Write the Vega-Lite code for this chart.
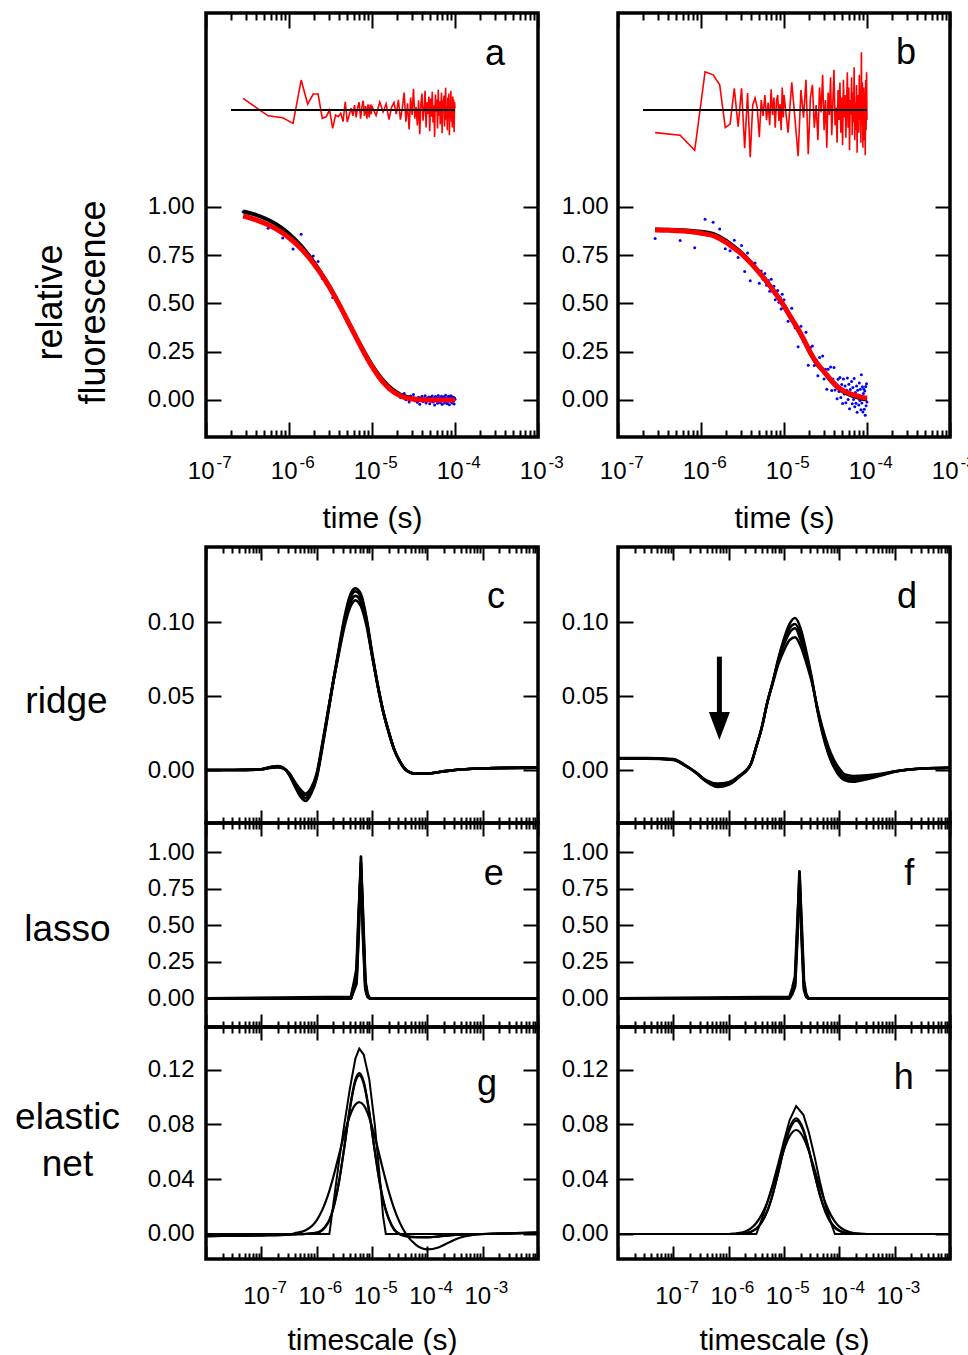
{
"$schema":"https://vega.github.io/schema/vega-lite/v6.json",
"padding":{"left":12,"top":11,"right":0,"bottom":0},
"autosize":{"type":"pad"},
"background":"white",
"config":{
 "font":"Liberation Sans",
 "view":{"stroke":"black","strokeWidth":3.5},
 "axis":{"grid":false,"domain":false,"tickColor":"black","tickWidth":2,"labelColor":"black","titleColor":"black","labelFont":"Liberation Sans","titleFont":"Liberation Sans","labelFontSize":24,"titleFontSize":30,"titleFontWeight":"normal","labelFlush":false,"labelOverlap":false,"labelBound":false}
},
"datasets":{
"aPts":[
{"t":0.28e-6,"d":0.974,"r":1.560},{"t":0.56e-6,"d":0.888,"r":1.470},{"t":0.84e-6,"d":0.838,"r":1.460},{"t":1.12e-6,"d":0.781,"r":1.431},{"t":1.40e-6,"d":0.857,"r":1.655},{"t":1.68e-6,"d":0.759,"r":1.531},{"t":1.96e-6,"d":0.745,"r":1.583},{"t":2.24e-6,"d":0.716,"r":1.583},{"t":2.52e-6,"d":0.628,"r":1.457},{"t":2.80e-6,"d":0.600,"r":1.465},{"t":3.08e-6,"d":0.583,"r":1.500},{"t":3.36e-6,"d":0.530,"r":1.405},{"t":3.64e-6,"d":0.522,"r":1.474},{"t":3.92e-6,"d":0.497,"r":1.466},{"t":4.20e-6,"d":0.476,"r":1.483},{"t":4.48e-6,"d":0.447,"r":1.440},{"t":4.76e-6,"d":0.444,"r":1.543},{"t":5.04e-6,"d":0.404,"r":1.438},{"t":5.32e-6,"d":0.390,"r":1.474},{"t":5.60e-6,"d":0.377,"r":1.510},{"t":5.88e-6,"d":0.349,"r":1.470},{"t":6.16e-6,"d":0.345,"r":1.525},{"t":6.44e-6,"d":0.318,"r":1.462},{"t":6.72e-6,"d":0.311,"r":1.512},{"t":7.00e-6,"d":0.301,"r":1.540},{"t":7.28e-6,"d":0.271,"r":1.455},{"t":7.56e-6,"d":0.268,"r":1.515},{"t":7.84e-6,"d":0.262,"r":1.548},{"t":8.12e-6,"d":0.236,"r":1.470},{"t":8.40e-6,"d":0.233,"r":1.520},{"t":8.68e-6,"d":0.211,"r":1.455},{"t":8.96e-6,"d":0.215,"r":1.530},{"t":9.24e-6,"d":0.192,"r":1.462},{"t":9.52e-6,"d":0.194,"r":1.528},{"t":9.80e-6,"d":0.176,"r":1.478},
{"t":10.0e-6,"d":0.178,"r":1.518},{"t":11.2e-6,"d":0.137,"r":1.472},{"t":12.4e-6,"d":0.123,"r":1.542},{"t":13.6e-6,"d":0.092,"r":1.490},{"t":14.8e-6,"d":0.082,"r":1.532},{"t":16.0e-6,"d":0.054,"r":1.451},{"t":17.2e-6,"d":0.053,"r":1.514},{"t":18.4e-6,"d":0.049,"r":1.539},{"t":19.6e-6,"d":0.030,"r":1.479},{"t":20.8e-6,"d":0.037,"r":1.553},{"t":22.0e-6,"d":0.013,"r":1.450},{"t":23.2e-6,"d":0.021,"r":1.510},{"t":24.4e-6,"d":0.034,"r":1.590},{"t":25.6e-6,"d":0.001,"r":1.440},{"t":26.8e-6,"d":0.018,"r":1.535},{"t":28.0e-6,"d":-0.011,"r":1.400},{"t":29.2e-6,"d":0.021,"r":1.565},{"t":30.4e-6,"d":0.002,"r":1.475},{"t":31.6e-6,"d":0.028,"r":1.610},{"t":32.8e-6,"d":-0.004,"r":1.455},{"t":34.0e-6,"d":0.008,"r":1.515},{"t":35.2e-6,"d":-0.012,"r":1.420},{"t":36.4e-6,"d":0.014,"r":1.550},{"t":37.6e-6,"d":-0.022,"r":1.375},{"t":38.8e-6,"d":0.009,"r":1.530},{"t":40.0e-6,"d":0.020,"r":1.585},{"t":41.2e-6,"d":-0.008,"r":1.445},{"t":42.4e-6,"d":0.004,"r":1.505},{"t":43.6e-6,"d":0.022,"r":1.600},{"t":44.8e-6,"d":-0.016,"r":1.410},{"t":46.0e-6,"d":0.010,"r":1.540},{"t":47.2e-6,"d":-0.002,"r":1.480},{"t":48.4e-6,"d":0.016,"r":1.570},{"t":49.6e-6,"d":-0.020,"r":1.390},{"t":50.8e-6,"d":0.014,"r":1.560},{"t":52.0e-6,"d":-0.005,"r":1.465},{"t":53.2e-6,"d":0.021,"r":1.595},{"t":54.4e-6,"d":-0.011,"r":1.435},{"t":55.6e-6,"d":0.007,"r":1.525},{"t":56.8e-6,"d":-0.026,"r":1.360},{"t":58.0e-6,"d":0.018,"r":1.580},{"t":59.2e-6,"d":0.000,"r":1.490},{"t":60.4e-6,"d":0.013,"r":1.555},{"t":61.6e-6,"d":-0.017,"r":1.405},{"t":62.8e-6,"d":0.023,"r":1.605},{"t":64.0e-6,"d":-0.004,"r":1.470},{"t":65.2e-6,"d":0.011,"r":1.545},{"t":66.4e-6,"d":-0.013,"r":1.425},{"t":67.6e-6,"d":0.005,"r":1.515},{"t":68.8e-6,"d":0.020,"r":1.590},{"t":70.0e-6,"d":-0.022,"r":1.380},{"t":71.2e-6,"d":0.012,"r":1.550},{"t":72.4e-6,"d":0.001,"r":1.495},{"t":73.6e-6,"d":0.017,"r":1.575},{"t":74.8e-6,"d":-0.015,"r":1.415},{"t":76.0e-6,"d":0.009,"r":1.535},{"t":77.2e-6,"d":0.025,"r":1.615},{"t":78.4e-6,"d":-0.008,"r":1.450},{"t":79.6e-6,"d":0.006,"r":1.520},{"t":80.8e-6,"d":-0.019,"r":1.395},{"t":82.0e-6,"d":0.015,"r":1.565},{"t":83.2e-6,"d":-0.006,"r":1.460},{"t":84.4e-6,"d":0.019,"r":1.585},{"t":85.6e-6,"d":-0.024,"r":1.370},{"t":86.8e-6,"d":0.011,"r":1.545},{"t":88.0e-6,"d":-0.001,"r":1.485},{"t":89.2e-6,"d":0.022,"r":1.600},{"t":90.4e-6,"d":-0.010,"r":1.440},{"t":91.6e-6,"d":0.008,"r":1.530},{"t":92.8e-6,"d":-0.016,"r":1.410},{"t":94.0e-6,"d":0.016,"r":1.570},{"t":95.2e-6,"d":-0.003,"r":1.475},{"t":96.4e-6,"d":0.013,"r":1.555},{"t":97.6e-6,"d":-0.021,"r":1.385},{"t":98.8e-6,"d":0.010,"r":1.540},{"t":100.0e-6,"d":0.004,"r":1.510}
],
"aFit":[
{"t":0.28e-6,"r":0.952,"k":0.975},{"t":0.4e-6,"r":0.932,"k":0.958},{"t":0.56e-6,"r":0.906,"k":0.932},{"t":0.8e-6,"r":0.869,"k":0.893},{"t":1.0e-6,"r":0.839,"k":0.860},{"t":1.4e-6,"r":0.782,"k":0.797},{"t":2.0e-6,"r":0.704,"k":0.712},{"t":2.8e-6,"r":0.612,"k":0.615},{"t":4.0e-6,"r":0.496,"k":0.496},{"t":5.6e-6,"r":0.374,"k":0.375},{"t":8.0e-6,"r":0.246,"k":0.251},{"t":10e-6,"r":0.173,"k":0.181},{"t":12e-6,"r":0.122,"k":0.131},{"t":14e-6,"r":0.086,"k":0.095},{"t":17e-6,"r":0.051,"k":0.060},{"t":20e-6,"r":0.030,"k":0.038},{"t":24e-6,"r":0.015,"k":0.021},{"t":28e-6,"r":0.007,"k":0.012},{"t":34e-6,"r":0.003,"k":0.006},{"t":40e-6,"r":0.001,"k":0.003},{"t":56e-6,"r":0.0,"k":0.001},{"t":80e-6,"r":0.0,"k":0.0},{"t":100e-6,"r":0.0,"k":0.0}
],
"aZ":[{"t":2e-7,"y":1.5},{"t":1e-4,"y":1.5}],
"bPts":[
{"t":0.28e-6,"d":0.835,"r":1.383},{"t":0.56e-6,"d":0.825,"r":1.370},{"t":0.84e-6,"d":0.788,"r":1.292},{"t":1.12e-6,"d":0.935,"r":1.698},{"t":1.40e-6,"d":0.919,"r":1.682},{"t":1.68e-6,"d":0.884,"r":1.630},{"t":1.96e-6,"d":0.782,"r":1.409},{"t":2.24e-6,"d":0.772,"r":1.427},{"t":2.52e-6,"d":0.827,"r":1.612},{"t":2.80e-6,"d":0.737,"r":1.414},{"t":3.08e-6,"d":0.799,"r":1.612},{"t":3.36e-6,"d":0.665,"r":1.302},{"t":3.64e-6,"d":0.760,"r":1.588},{"t":3.92e-6,"d":0.617,"r":1.256},{"t":4.20e-6,"d":0.708,"r":1.526},{"t":4.48e-6,"d":0.709,"r":1.562},{"t":4.76e-6,"d":0.676,"r":1.513},{"t":5.04e-6,"d":0.604,"r":1.360},{"t":5.32e-6,"d":0.667,"r":1.552},{"t":5.60e-6,"d":0.624,"r":1.469},{"t":5.88e-6,"d":0.655,"r":1.578},{"t":6.16e-6,"d":0.594,"r":1.448},{"t":6.44e-6,"d":0.618,"r":1.539},{"t":6.72e-6,"d":0.563,"r":1.422},{"t":7.00e-6,"d":0.624,"r":1.607},{"t":7.28e-6,"d":0.563,"r":1.474},{"t":7.56e-6,"d":0.588,"r":1.565},{"t":7.84e-6,"d":0.518,"r":1.409},{"t":8.12e-6,"d":0.562,"r":1.547},{"t":8.40e-6,"d":0.566,"r":1.578},{"t":8.68e-6,"d":0.505,"r":1.443},{"t":8.96e-6,"d":0.531,"r":1.531},{"t":9.24e-6,"d":0.471,"r":1.396},{"t":9.52e-6,"d":0.547,"r":1.617},{"t":9.80e-6,"d":0.479,"r":1.461},
{"t":10.0e-6,"d":0.518,"r":1.578},{"t":11.2e-6,"d":0.408,"r":1.383},{"t":12.4e-6,"d":0.475,"r":1.643},{"t":13.6e-6,"d":0.374,"r":1.448},{"t":14.8e-6,"d":0.275,"r":1.261},{"t":16.0e-6,"d":0.381,"r":1.604},{"t":17.2e-6,"d":0.301,"r":1.461},{"t":18.4e-6,"d":0.350,"r":1.656},{"t":19.6e-6,"d":0.180,"r":1.271},{"t":20.8e-6,"d":0.271,"r":1.565},{"t":22.0e-6,"d":0.279,"r":1.630},{"t":23.2e-6,"d":0.178,"r":1.409},{"t":24.4e-6,"d":0.207,"r":1.526},{"t":25.6e-6,"d":0.125,"r":1.344},{"t":26.8e-6,"d":0.220,"r":1.617},{"t":28.0e-6,"d":0.161,"r":1.487},{"t":29.2e-6,"d":0.227,"r":1.682},{"t":30.4e-6,"d":0.108,"r":1.396},{"t":31.6e-6,"d":0.159,"r":1.552},{"t":32.8e-6,"d":0.056,"r":1.305},{"t":34.0e-6,"d":0.159,"r":1.591},{"t":35.2e-6,"d":0.105,"r":1.474},{"t":36.4e-6,"d":0.171,"r":1.669},{"t":37.6e-6,"d":0.049,"r":1.370},{"t":38.8e-6,"d":0.109,"r":1.539},{"t":40.0e-6,"d":0.168,"r":1.708},{"t":41.2e-6,"d":0.052,"r":1.422},{"t":42.4e-6,"d":0.081,"r":1.513},{"t":43.6e-6,"d":0.006,"r":1.331},{"t":44.8e-6,"d":0.107,"r":1.604},{"t":46.0e-6,"d":0.044,"r":1.448},{"t":47.2e-6,"d":0.116,"r":1.643},{"t":48.4e-6,"d":0.013,"r":1.383},{"t":49.6e-6,"d":0.080,"r":1.565},{"t":50.8e-6,"d":-0.018,"r":1.318},{"t":52.0e-6,"d":0.109,"r":1.656},{"t":53.2e-6,"d":0.031,"r":1.461},{"t":54.4e-6,"d":0.073,"r":1.578},{"t":55.6e-6,"d":-0.014,"r":1.357},{"t":56.8e-6,"d":0.050,"r":1.526},{"t":58.0e-6,"d":0.114,"r":1.695},{"t":59.2e-6,"d":0.002,"r":1.409},{"t":60.4e-6,"d":0.081,"r":1.617},{"t":61.6e-6,"d":-0.045,"r":1.292},{"t":62.8e-6,"d":0.054,"r":1.552},{"t":64.0e-6,"d":0.023,"r":1.474},{"t":65.2e-6,"d":0.096,"r":1.669},{"t":66.4e-6,"d":-0.020,"r":1.370},{"t":67.6e-6,"d":0.064,"r":1.591},{"t":68.8e-6,"d":0.002,"r":1.435},{"t":70.0e-6,"d":0.111,"r":1.721},{"t":71.2e-6,"d":-0.035,"r":1.344},{"t":72.4e-6,"d":0.039,"r":1.539},{"t":73.6e-6,"d":-0.017,"r":1.396},{"t":74.8e-6,"d":0.073,"r":1.630},{"t":76.0e-6,"d":-0.063,"r":1.279},{"t":77.2e-6,"d":0.051,"r":1.578},{"t":78.4e-6,"d":0.025,"r":1.513},{"t":79.6e-6,"d":-0.026,"r":1.383},{"t":80.8e-6,"d":0.088,"r":1.682},{"t":82.0e-6,"d":-0.003,"r":1.448},{"t":83.2e-6,"d":0.056,"r":1.604},{"t":84.4e-6,"d":-0.050,"r":1.331},{"t":85.6e-6,"d":0.130,"r":1.799},{"t":86.8e-6,"d":-0.016,"r":1.422},{"t":88.0e-6,"d":0.069,"r":1.643},{"t":89.2e-6,"d":-0.062,"r":1.305},{"t":90.4e-6,"d":0.033,"r":1.552},{"t":91.6e-6,"d":0.057,"r":1.617},{"t":92.8e-6,"d":-0.048,"r":1.344},{"t":94.0e-6,"d":0.046,"r":1.591},{"t":95.2e-6,"d":-0.079,"r":1.266},{"t":96.4e-6,"d":0.070,"r":1.656},{"t":97.6e-6,"d":-0.030,"r":1.396},{"t":98.8e-6,"d":0.084,"r":1.695},{"t":100.0e-6,"d":-0.011,"r":1.448}
],
"bFit":[
{"t":0.28e-6,"r":0.880,"k":0.882},{"t":0.4e-6,"r":0.878,"k":0.881},{"t":0.6e-6,"r":0.874,"k":0.878},{"t":0.8e-6,"r":0.869,"k":0.874},{"t":1.0e-6,"r":0.863,"k":0.870},{"t":1.5e-6,"r":0.845,"k":0.854},{"t":2.0e-6,"r":0.815,"k":0.824},{"t":2.5e-6,"r":0.785,"k":0.793},{"t":3.0e-6,"r":0.760,"k":0.766},{"t":4.0e-6,"r":0.707,"k":0.711},{"t":5.0e-6,"r":0.660,"k":0.662},{"t":6.4e-6,"r":0.604,"k":0.604},{"t":8.0e-6,"r":0.548,"k":0.546},{"t":9.6e-6,"r":0.500,"k":0.497},{"t":12e-6,"r":0.430,"k":0.426},{"t":14.6e-6,"r":0.371,"k":0.366},{"t":17e-6,"r":0.320,"k":0.315},{"t":21e-6,"r":0.242,"k":0.238},{"t":25e-6,"r":0.190,"k":0.186},{"t":30.6e-6,"r":0.146,"k":0.142},{"t":37e-6,"r":0.102,"k":0.098},{"t":44e-6,"r":0.069,"k":0.064},{"t":55e-6,"r":0.042,"k":0.036},{"t":70e-6,"r":0.026,"k":0.019},{"t":85e-6,"r":0.015,"k":0.008},{"t":100e-6,"r":0.009,"k":0.002}
],
"bZ":[{"t":2e-7,"y":1.5},{"t":1e-4,"y":1.5}],
"cL":[
{"t":1e-8,"c1":0,"c2":0,"c3":0,"c4":0},{"t":3.162e-8,"c1":0,"c2":0,"c3":0,"c4":0},{"t":1e-7,"c1":0.0005,"c2":0.0005,"c3":0.0005,"c4":0.0005},{"t":1.585e-7,"c1":0.0024,"c2":0.0021,"c3":0.0019,"c4":0.0016},{"t":1.995e-7,"c1":0.0026,"c2":0.0023,"c3":0.0021,"c4":0.0018},{"t":2.512e-7,"c1":0.0014,"c2":0.0013,"c3":0.0011,"c4":0.001},{"t":3.162e-7,"c1":-0.003,"c2":-0.0027,"c3":-0.0023,"c4":-0.002},{"t":3.981e-7,"c1":-0.0105,"c2":-0.0095,"c3":-0.0085,"c4":-0.0078},{"t":5.012e-7,"c1":-0.0175,"c2":-0.0158,"c3":-0.0142,"c4":-0.013},{"t":6.31e-7,"c1":-0.021,"c2":-0.019,"c3":-0.017,"c4":-0.016},{"t":7.943e-7,"c1":-0.016,"c2":-0.0148,"c3":-0.0132,"c4":-0.0122},{"t":1e-6,"c1":-0.0055,"c2":-0.0045,"c3":-0.0035,"c4":-0.0025},{"t":1.259e-6,"c1":0.0145,"c2":0.0155,"c3":0.0165,"c4":0.0175},{"t":1.585e-6,"c1":0.037,"c2":0.038,"c3":0.038,"c4":0.039},{"t":1.995e-6,"c1":0.06,"c2":0.06,"c3":0.06,"c4":0.06},{"t":2.512e-6,"c1":0.082,"c2":0.081,"c3":0.08,"c4":0.079},{"t":3.162e-6,"c1":0.103,"c2":0.101,"c3":0.099,"c4":0.097},{"t":3.981e-6,"c1":0.118,"c2":0.116,"c3":0.113,"c4":0.11},{"t":5.012e-6,"c1":0.123,"c2":0.121,"c3":0.118,"c4":0.115},{"t":6.31e-6,"c1":0.119,"c2":0.117,"c3":0.114,"c4":0.111},{"t":7.943e-6,"c1":0.103,"c2":0.102,"c3":0.1,"c4":0.098},{"t":1e-5,"c1":0.08,"c2":0.079,"c3":0.078,"c4":0.078},{"t":1.259e-5,"c1":0.058,"c2":0.058,"c3":0.058,"c4":0.058},{"t":1.585e-5,"c1":0.04,"c2":0.04,"c3":0.04,"c4":0.04},{"t":1.995e-5,"c1":0.026,"c2":0.026,"c3":0.026,"c4":0.026},{"t":2.512e-5,"c1":0.014,"c2":0.014,"c3":0.014,"c4":0.014},{"t":3.162e-5,"c1":0.006,"c2":0.006,"c3":0.006,"c4":0.006},{"t":3.981e-5,"c1":0.0005,"c2":0.0005,"c3":0.0005,"c4":0.0005},{"t":5.012e-5,"c1":-0.0018,"c2":-0.0018,"c3":-0.0018,"c4":-0.0018},{"t":6.31e-5,"c1":-0.0025,"c2":-0.0025,"c3":-0.0025,"c4":-0.0025},{"t":1e-4,"c1":-0.0024,"c2":-0.0024,"c3":-0.0024,"c4":-0.0024},{"t":1.778e-4,"c1":-0.0012,"c2":-0.0012,"c3":-0.0012,"c4":-0.0012},{"t":3.162e-4,"c1":0,"c2":0,"c3":0,"c4":0},{"t":1e-3,"c1":0.0011,"c2":0.0011,"c3":0.0011,"c4":0.0011},{"t":3.162e-3,"c1":0.0015,"c2":0.0015,"c3":0.0015,"c4":0.0015},{"t":1e-2,"c1":0.0016,"c2":0.0016,"c3":0.0016,"c4":0.0016}
],
"dL":[
{"t":1e-8,"d1":0.008,"d2":0.0082,"d3":0.0078,"d4":0.0076},{"t":3.162e-8,"d1":0.008,"d2":0.0082,"d3":0.0078,"d4":0.0076},{"t":1e-7,"d1":0.0072,"d2":0.0074,"d3":0.007,"d4":0.0068},{"t":1.585e-7,"d1":0.0035,"d2":0.0037,"d3":0.0034,"d4":0.0032},{"t":2.512e-7,"d1":-0.0015,"d2":-0.0017,"d3":-0.0014,"d4":-0.0013},{"t":3.981e-7,"d1":-0.008,"d2":-0.0078,"d3":-0.0075,"d4":-0.007},{"t":6.31e-7,"d1":-0.0115,"d2":-0.0108,"d3":-0.01,"d4":-0.0092},{"t":1e-6,"d1":-0.01,"d2":-0.0095,"d3":-0.009,"d4":-0.0082},{"t":1.585e-6,"d1":-0.0045,"d2":-0.0042,"d3":-0.004,"d4":-0.0036},{"t":2.512e-6,"d1":0.004,"d2":0.004,"d3":0.004,"d4":0.004},{"t":3.162e-6,"d1":0.016,"d2":0.016,"d3":0.016,"d4":0.016},{"t":3.981e-6,"d1":0.029,"d2":0.029,"d3":0.029,"d4":0.029},{"t":5.012e-6,"d1":0.046,"d2":0.046,"d3":0.046,"d4":0.046},{"t":6.31e-6,"d1":0.06,"d2":0.06,"d3":0.06,"d4":0.059},{"t":7.943e-6,"d1":0.076,"d2":0.075,"d3":0.074,"d4":0.072},{"t":1e-5,"d1":0.089,"d2":0.087,"d3":0.085,"d4":0.081},{"t":1.259e-5,"d1":0.099,"d2":0.096,"d3":0.093,"d4":0.088},{"t":1.585e-5,"d1":0.103,"d2":0.099,"d3":0.096,"d4":0.09},{"t":1.995e-5,"d1":0.096,"d2":0.092,"d3":0.088,"d4":0.084},{"t":2.512e-5,"d1":0.081,"d2":0.078,"d3":0.076,"d4":0.073},{"t":3.162e-5,"d1":0.063,"d2":0.062,"d3":0.061,"d4":0.06},{"t":3.981e-5,"d1":0.041,"d2":0.042,"d3":0.042,"d4":0.043},{"t":5.012e-5,"d1":0.024,"d2":0.025,"d3":0.026,"d4":0.028},{"t":6.31e-5,"d1":0.011,"d2":0.012,"d3":0.014,"d4":0.016},{"t":7.943e-5,"d1":0.002,"d2":0.003,"d3":0.005,"d4":0.007},{"t":1e-4,"d1":-0.004,"d2":-0.003,"d3":-0.001,"d4":0.001},{"t":1.259e-4,"d1":-0.007,"d2":-0.0058,"d3":-0.0045,"d4":-0.003},{"t":1.778e-4,"d1":-0.008,"d2":-0.0066,"d3":-0.0055,"d4":-0.004},{"t":3.162e-4,"d1":-0.0062,"d2":-0.0053,"d3":-0.0045,"d4":-0.0036},{"t":5.623e-4,"d1":-0.0038,"d2":-0.0034,"d3":-0.003,"d4":-0.0026},{"t":1e-3,"d1":-0.0012,"d2":-0.0011,"d3":-0.001,"d4":-0.0009},{"t":3.162e-3,"d1":0.001,"d2":0.001,"d3":0.001,"d4":0.001},{"t":1e-2,"d1":0.0016,"d2":0.0016,"d3":0.0016,"d4":0.0016}
],
"eL":[
{"t":1e-8,"e1":0,"e2":0,"e3":0,"e4":0},{"t":4.169e-6,"e1":0,"e2":0,"e3":0.01,"e4":0},{"t":4.677e-6,"e1":0.06,"e2":0.09,"e3":0.1,"e4":0.05},{"t":5.248e-6,"e1":0.12,"e2":0.15,"e3":0.2,"e4":0.1},{"t":5.754e-6,"e1":0.5,"e2":0.55,"e3":0.6,"e4":0.45},{"t":6.31e-6,"e1":0.97,"e2":0.93,"e3":0.88,"e4":0.9},{"t":6.918e-6,"e1":0.5,"e2":0.45,"e3":0.4,"e4":0.55},{"t":7.586e-6,"e1":0.1,"e2":0.08,"e3":0.06,"e4":0.12},{"t":8.318e-6,"e1":0.02,"e2":0.01,"e3":0.01,"e4":0.03},{"t":9.12e-6,"e1":0,"e2":0,"e3":0,"e4":0},{"t":1e-2,"e1":0,"e2":0,"e3":0,"e4":0}
],
"fL":[
{"t":1e-8,"f1":0,"f2":0,"f3":0},{"t":1.259e-5,"f1":0,"f2":0.01,"f3":0},{"t":1.413e-5,"f1":0.04,"f2":0.07,"f3":0.03},{"t":1.585e-5,"f1":0.1,"f2":0.15,"f3":0.08},{"t":1.738e-5,"f1":0.45,"f2":0.5,"f3":0.4},{"t":1.905e-5,"f1":0.87,"f2":0.8,"f3":0.83},{"t":2.089e-5,"f1":0.45,"f2":0.4,"f3":0.5},{"t":2.291e-5,"f1":0.08,"f2":0.06,"f3":0.12},{"t":2.512e-5,"f1":0.02,"f2":0.01,"f3":0.03},{"t":2.754e-5,"f1":0,"f2":0,"f3":0},{"t":1e-2,"f1":0,"f2":0,"f3":0}
],
"gL":[
{"t":1e-8,"g1":-0.0015,"g2":-0.0015,"g3":-0.0015,"g4":0},{"t":1e-7,"g1":-0.001,"g2":-0.001,"g3":-0.001,"g4":0},{"t":3.162e-7,"g1":-0.0004,"g2":-0.0005,"g3":-0.0005,"g4":0},{"t":3.981e-7,"g1":0.0005,"g2":-0.0003,"g3":-0.0003,"g4":0},{"t":6.31e-7,"g1":0.0027,"g2":0,"g3":0.0001,"g4":0},{"t":1e-6,"g1":0.01,"g2":0.0008,"g3":0.001,"g4":0},{"t":1.259e-6,"g1":0.0174,"g2":0.0027,"g3":0.003,"g4":0},{"t":1.585e-6,"g1":0.0279,"g2":0.0077,"g3":0.0081,"g4":0},{"t":1.698e-6,"g1":0.0316,"g2":0.0101,"g3":0.0105,"g4":0},{"t":1.995e-6,"g1":0.0414,"g2":0.0184,"g3":0.0188,"g4":0.0214},{"t":2.512e-6,"g1":0.0571,"g2":0.0372,"g3":0.0374,"g4":0.052},{"t":3.162e-6,"g1":0.0729,"g2":0.0637,"g3":0.0632,"g4":0.08},{"t":3.981e-6,"g1":0.0863,"g2":0.0921,"g3":0.091,"g4":0.106},{"t":5.012e-6,"g1":0.0945,"g2":0.1128,"g3":0.1112,"g4":0.128},{"t":5.888e-6,"g1":0.0963,"g2":0.1175,"g3":0.1158,"g4":0.1353},{"t":7.079e-6,"g1":0.094,"g2":0.1113,"g3":0.1098,"g4":0.131},{"t":8.913e-6,"g1":0.085,"g2":0.0895,"g3":0.0885,"g4":0.113},{"t":1.122e-5,"g1":0.0711,"g2":0.0608,"g3":0.0605,"g4":0.08},{"t":1.413e-5,"g1":0.0549,"g2":0.0349,"g3":0.0352,"g4":0.037},{"t":1.585e-5,"g1":0.0467,"g2":0.0248,"g3":0.0255,"g4":0.013},{"t":1.778e-5,"g1":0.0388,"g2":0.017,"g3":0.0178,"g4":0},{"t":1.995e-5,"g1":0.0314,"g2":0.0111,"g3":0.0118,"g4":0},{"t":2.512e-5,"g1":0.0186,"g2":0.0031,"g3":0.0036,"g4":0},{"t":3.162e-5,"g1":0.0085,"g2":-0.0002,"g3":0.0002,"g4":0},{"t":3.981e-5,"g1":0.0009,"g2":-0.0015,"g3":-0.0012,"g4":0},{"t":6.31e-5,"g1":-0.0081,"g2":-0.0024,"g3":-0.0022,"g4":0},{"t":1e-4,"g1":-0.0112,"g2":-0.0024,"g3":-0.0023,"g4":0},{"t":1.585e-4,"g1":-0.0098,"g2":-0.0019,"g3":-0.0018,"g4":0},{"t":2.512e-4,"g1":-0.006,"g2":-0.0011,"g3":-0.001,"g4":0},{"t":3.981e-4,"g1":-0.0026,"g2":-0.0005,"g3":-0.0005,"g4":0},{"t":6.31e-4,"g1":-0.0008,"g2":-0.0002,"g3":-0.0002,"g4":0},{"t":1e-3,"g1":-0.0001,"g2":0,"g3":0,"g4":0},{"t":3.162e-3,"g1":0.0005,"g2":0.0005,"g3":0.0005,"g4":0.0003},{"t":1e-2,"g1":0.001,"g2":0.001,"g3":0.001,"g4":0.0008}
],
"hL":[
{"t":1e-8,"h1":0,"h2":0,"h3":0,"h4":0},{"t":3.162e-7,"h1":0,"h2":0,"h3":0,"h4":0},{"t":1e-6,"h1":0,"h2":0,"h3":0,"h4":0},{"t":1.259e-6,"h1":0.0003,"h2":0,"h3":0,"h4":0},{"t":1.585e-6,"h1":0.0008,"h2":0.0002,"h3":0.0002,"h4":0},{"t":1.995e-6,"h1":0.0019,"h2":0.0005,"h3":0.0005,"h4":0},{"t":2.512e-6,"h1":0.0041,"h2":0.0015,"h3":0.0016,"h4":0},{"t":3.162e-6,"h1":0.008,"h2":0.0039,"h3":0.004,"h4":0},{"t":3.981e-6,"h1":0.0144,"h2":0.0086,"h3":0.0088,"h4":0.011},{"t":5.012e-6,"h1":0.0235,"h2":0.0169,"h3":0.017,"h4":0.023},{"t":6.31e-6,"h1":0.0354,"h2":0.0296,"h3":0.0294,"h4":0.037},{"t":7.943e-6,"h1":0.0487,"h2":0.0459,"h3":0.0452,"h4":0.052},{"t":1e-5,"h1":0.0616,"h2":0.0634,"h3":0.0622,"h4":0.068},{"t":1.259e-5,"h1":0.0713,"h2":0.0776,"h3":0.076,"h4":0.083},{"t":1.66e-5,"h1":0.0759,"h2":0.0845,"h3":0.0828,"h4":0.0934},{"t":2.239e-5,"h1":0.0705,"h2":0.0764,"h3":0.0752,"h4":0.087},{"t":2.818e-5,"h1":0.0604,"h2":0.0617,"h3":0.061,"h4":0.074},{"t":3.548e-5,"h1":0.0474,"h2":0.0442,"h3":0.0442,"h4":0.057},{"t":4.467e-5,"h1":0.0341,"h2":0.0281,"h3":0.0285,"h4":0.038},{"t":5.623e-5,"h1":0.0225,"h2":0.0159,"h3":0.0165,"h4":0.021},{"t":7.079e-5,"h1":0.0136,"h2":0.008,"h3":0.0085,"h4":0.008},{"t":8.318e-5,"h1":0.0091,"h2":0.0046,"h3":0.005,"h4":0},{"t":1e-4,"h1":0.0054,"h2":0.0023,"h3":0.0026,"h4":0},{"t":1.259e-4,"h1":0.0027,"h2":0.0008,"h3":0.001,"h4":0},{"t":1.585e-4,"h1":0.0012,"h2":0.0003,"h3":0.0004,"h4":0},{"t":1.995e-4,"h1":0.0005,"h2":0.0001,"h3":0.0001,"h4":0},{"t":3.162e-4,"h1":0,"h2":0,"h3":0,"h4":0},{"t":1e-3,"h1":0,"h2":0,"h3":0,"h4":0},{"t":1e-2,"h1":0,"h2":0,"h3":0,"h4":0}
]
},
"columns":2,
"spacing":{"row":0,"column":80},
"bounds":"flush",
"concat":[
{
 "width":332,"height":534,"view":{"stroke":null},
 "layer":[
  {"data":{"name":"aPts"},"mark":{"type":"circle","size":9,"color":"#0000ff","opacity":1},
   "encoding":{
    "x":{"field":"t","type":"quantitative","scale":{"type":"log","domain":[1e-7,1e-3],"nice":false},
     "axis":{"orient":"bottom","offset":-110,"values":[1e-7,2e-7,3e-7,4e-7,5e-7,6e-7,7e-7,8e-7,9e-7,1e-6,2e-6,3e-6,4e-6,5e-6,6e-6,7e-6,8e-6,9e-6,1e-5,2e-5,3e-5,4e-5,5e-5,6e-5,7e-5,8e-5,9e-5,1e-4,2e-4,3e-4,4e-4,5e-4,6e-4,7e-4,8e-4,9e-4,1e-3],
      "tickSize":{"condition":{"test":"abs(log(datum.value)/LN10-round(log(datum.value)/LN10))<0.01","value":-15},"value":-7},
      "labelExpr":"abs(log(datum.value)/LN10-round(log(datum.value)/LN10))<0.01 ? '10' : ''",
      "labelAlign":"right","labelOffset":8,"labelBaseline":"alphabetic","labelPadding":56,
      "title":"time (s)","titleX":166,"titleY":90,"titleAlign":"center","titleBaseline":"alphabetic"}},
    "y":{"field":"d","type":"quantitative","scale":{"domain":[-0.7605,2.002],"nice":false,"zero":false},
     "axis":{"orient":"left","values":[0,0.25,0.5,0.75,1],"format":".2f","tickSize":-15,"labelPadding":27,
      "title":["relative","fluorescence"],"titleAngle":270,"titleX":-145,"titleY":289,"titleAlign":"center","titleBaseline":"alphabetic","titleLineHeight":43,"titleFontSize":36}}
   }},
  {"data":{"name":"aPts"},"mark":{"type":"line","color":"#ff0000","strokeWidth":1.6},
   "encoding":{"x":{"field":"t","type":"quantitative","scale":{"type":"log","domain":[1e-7,1e-3],"nice":false},"axis":null},
    "y":{"field":"r","type":"quantitative","scale":{"domain":[-0.7605,2.002],"nice":false,"zero":false},"axis":null}}},
  {"data":{"name":"aZ"},"mark":{"type":"line","color":"black","strokeWidth":2},
   "encoding":{"x":{"field":"t","type":"quantitative","scale":{"type":"log","domain":[1e-7,1e-3],"nice":false},"axis":null},
    "y":{"field":"y","type":"quantitative","scale":{"domain":[-0.7605,2.002],"nice":false,"zero":false},"axis":null}}},
  {"data":{"name":"aFit"},"mark":{"type":"line","color":"black","strokeWidth":4,"interpolate":"monotone"},
   "encoding":{"x":{"field":"t","type":"quantitative","scale":{"type":"log","domain":[1e-7,1e-3],"nice":false},"axis":null},
    "y":{"field":"k","type":"quantitative","scale":{"domain":[-0.7605,2.002],"nice":false,"zero":false},"axis":null}}},
  {"data":{"name":"aFit"},"mark":{"type":"line","color":"#ff0000","strokeWidth":5,"interpolate":"monotone"},
   "encoding":{"x":{"field":"t","type":"quantitative","scale":{"type":"log","domain":[1e-7,1e-3],"nice":false},"axis":null},
    "y":{"field":"r","type":"quantitative","scale":{"domain":[-0.7605,2.002],"nice":false,"zero":false},"axis":null}}},
  {"data":{"values":[{"x1":1e-7,"x2":1e-3,"y1":-0.1914,"y2":2.002}]},"mark":{"type":"rect","filled":false,"color":"black","strokeWidth":3.5},
   "encoding":{"x":{"field":"x1","type":"quantitative","scale":{"type":"log","domain":[1e-7,1e-3],"nice":false},
     "axis":{"orient":"bottom","offset":-110,"values":[1e-7,1e-6,1e-5,1e-4,1e-3],"ticks":false,"tickSize":0,"labelExpr":"'-' + (-round(log(datum.value)/LN10))","labelFontSize":17,"labelAlign":"left","labelOffset":10,"labelBaseline":"alphabetic","labelPadding":30,"title":null}},
    "x2":{"field":"x2"},
    "y":{"field":"y1","type":"quantitative","scale":{"domain":[-0.7605,2.002],"nice":false,"zero":false},"axis":null},
    "y2":{"field":"y2"}}},
  {"data":{"values":[{"t":3.03e-4,"v":1.733,"lab":"a"}]},"mark":{"type":"text","fontSize":36,"font":"Liberation Sans","align":"center","baseline":"alphabetic","color":"black"},
   "encoding":{"x":{"field":"t","type":"quantitative","scale":{"type":"log","domain":[1e-7,1e-3],"nice":false},
     "axis":{"orient":"top","values":[1e-7,2e-7,3e-7,4e-7,5e-7,6e-7,7e-7,8e-7,9e-7,1e-6,2e-6,3e-6,4e-6,5e-6,6e-6,7e-6,8e-6,9e-6,1e-5,2e-5,3e-5,4e-5,5e-5,6e-5,7e-5,8e-5,9e-5,1e-4,2e-4,3e-4,4e-4,5e-4,6e-4,7e-4,8e-4,9e-4,1e-3],
      "tickSize":{"condition":{"test":"abs(log(datum.value)/LN10-round(log(datum.value)/LN10))<0.01","value":-15},"value":-7},"labels":false,"title":null}},
    "y":{"field":"v","type":"quantitative","scale":{"domain":[-0.7605,2.002],"nice":false,"zero":false},
     "axis":{"orient":"right","values":[0,0.25,0.5,0.75,1],"tickSize":-15,"labels":false,"title":null}},
    "text":{"field":"lab"}}}
 ],
 "resolve":{"axis":{"x":"independent","y":"independent"}}
},
{
 "width":332,"height":534,"view":{"stroke":null},
 "layer":[
  {"data":{"name":"bPts"},"mark":{"type":"circle","size":9,"color":"#0000ff","opacity":1},
   "encoding":{
    "x":{"field":"t","type":"quantitative","scale":{"type":"log","domain":[1e-7,1e-3],"nice":false},
     "axis":{"orient":"bottom","offset":-110,"values":[1e-7,2e-7,3e-7,4e-7,5e-7,6e-7,7e-7,8e-7,9e-7,1e-6,2e-6,3e-6,4e-6,5e-6,6e-6,7e-6,8e-6,9e-6,1e-5,2e-5,3e-5,4e-5,5e-5,6e-5,7e-5,8e-5,9e-5,1e-4,2e-4,3e-4,4e-4,5e-4,6e-4,7e-4,8e-4,9e-4,1e-3],
      "tickSize":{"condition":{"test":"abs(log(datum.value)/LN10-round(log(datum.value)/LN10))<0.01","value":-15},"value":-7},
      "labelExpr":"abs(log(datum.value)/LN10-round(log(datum.value)/LN10))<0.01 ? '10' : ''",
      "labelAlign":"right","labelOffset":8,"labelBaseline":"alphabetic","labelPadding":56,
      "title":"time (s)","titleX":166,"titleY":90,"titleAlign":"center","titleBaseline":"alphabetic"}},
    "y":{"field":"d","type":"quantitative","scale":{"domain":[-0.7605,2.002],"nice":false,"zero":false},
     "axis":{"orient":"left","values":[0,0.25,0.5,0.75,1],"format":".2f","tickSize":-15,"labelPadding":25,"title":null}}
   }},
  {"data":{"name":"bPts"},"mark":{"type":"line","color":"#ff0000","strokeWidth":1.6},
   "encoding":{"x":{"field":"t","type":"quantitative","scale":{"type":"log","domain":[1e-7,1e-3],"nice":false},"axis":null},
    "y":{"field":"r","type":"quantitative","scale":{"domain":[-0.7605,2.002],"nice":false,"zero":false},"axis":null}}},
  {"data":{"name":"bZ"},"mark":{"type":"line","color":"black","strokeWidth":2},
   "encoding":{"x":{"field":"t","type":"quantitative","scale":{"type":"log","domain":[1e-7,1e-3],"nice":false},"axis":null},
    "y":{"field":"y","type":"quantitative","scale":{"domain":[-0.7605,2.002],"nice":false,"zero":false},"axis":null}}},
  {"data":{"name":"bFit"},"mark":{"type":"line","color":"black","strokeWidth":4,"interpolate":"monotone"},
   "encoding":{"x":{"field":"t","type":"quantitative","scale":{"type":"log","domain":[1e-7,1e-3],"nice":false},"axis":null},
    "y":{"field":"k","type":"quantitative","scale":{"domain":[-0.7605,2.002],"nice":false,"zero":false},"axis":null}}},
  {"data":{"name":"bFit"},"mark":{"type":"line","color":"#ff0000","strokeWidth":5,"interpolate":"monotone"},
   "encoding":{"x":{"field":"t","type":"quantitative","scale":{"type":"log","domain":[1e-7,1e-3],"nice":false},"axis":null},
    "y":{"field":"r","type":"quantitative","scale":{"domain":[-0.7605,2.002],"nice":false,"zero":false},"axis":null}}},
  {"data":{"values":[{"x1":1e-7,"x2":1e-3,"y1":-0.1914,"y2":2.002}]},"mark":{"type":"rect","filled":false,"color":"black","strokeWidth":3.5},
   "encoding":{"x":{"field":"x1","type":"quantitative","scale":{"type":"log","domain":[1e-7,1e-3],"nice":false},
     "axis":{"orient":"bottom","offset":-110,"values":[1e-7,1e-6,1e-5,1e-4,1e-3],"ticks":false,"tickSize":0,"labelExpr":"'-' + (-round(log(datum.value)/LN10))","labelFontSize":17,"labelAlign":"left","labelOffset":10,"labelBaseline":"alphabetic","labelPadding":30,"title":null}},
    "x2":{"field":"x2"},
    "y":{"field":"y1","type":"quantitative","scale":{"domain":[-0.7605,2.002],"nice":false,"zero":false},"axis":null},
    "y2":{"field":"y2"}}},
  {"data":{"values":[{"t":2.95e-4,"v":1.74,"lab":"b"}]},"mark":{"type":"text","fontSize":36,"font":"Liberation Sans","align":"center","baseline":"alphabetic","color":"black"},
   "encoding":{"x":{"field":"t","type":"quantitative","scale":{"type":"log","domain":[1e-7,1e-3],"nice":false},
     "axis":{"orient":"top","values":[1e-7,2e-7,3e-7,4e-7,5e-7,6e-7,7e-7,8e-7,9e-7,1e-6,2e-6,3e-6,4e-6,5e-6,6e-6,7e-6,8e-6,9e-6,1e-5,2e-5,3e-5,4e-5,5e-5,6e-5,7e-5,8e-5,9e-5,1e-4,2e-4,3e-4,4e-4,5e-4,6e-4,7e-4,8e-4,9e-4,1e-3],
      "tickSize":{"condition":{"test":"abs(log(datum.value)/LN10-round(log(datum.value)/LN10))<0.01","value":-15},"value":-7},"labels":false,"title":null}},
    "y":{"field":"v","type":"quantitative","scale":{"domain":[-0.7605,2.002],"nice":false,"zero":false},
     "axis":{"orient":"right","values":[0,0.25,0.5,0.75,1],"tickSize":-15,"labels":false,"title":null}},
    "text":{"field":"lab"}}}
 ],
 "resolve":{"axis":{"x":"independent","y":"independent"}}
},
{
 "width":332,"height":276,
 "layer":[
  {"data":{"name":"cL"},"transform":[{"fold":["c1","c2","c3","c4"],"as":["s","v"]}],"mark":{"type":"line","color":"black","strokeWidth":2.7,"interpolate":"monotone"},
   "encoding":{
    "x":{"field":"t","type":"quantitative","scale":{"type":"log","domain":[1e-8,1e-2],"nice":false},
     "axis":{"orient":"bottom","values":[1e-8,2e-8,3e-8,4e-8,5e-8,6e-8,7e-8,8e-8,9e-8,1e-7,2e-7,3e-7,4e-7,5e-7,6e-7,7e-7,8e-7,9e-7,1e-6,2e-6,3e-6,4e-6,5e-6,6e-6,7e-6,8e-6,9e-6,1e-5,2e-5,3e-5,4e-5,5e-5,6e-5,7e-5,8e-5,9e-5,1e-4,2e-4,3e-4,4e-4,5e-4,6e-4,7e-4,8e-4,9e-4,1e-3,2e-3,3e-3,4e-3,5e-3,6e-3,7e-3,8e-3,9e-3,1e-2],
      "tickSize":{"condition":{"test":"abs(log(datum.value)/LN10-round(log(datum.value)/LN10))<0.01","value":-13},"value":-6},"labels":false,"title":null}},
    "y":{"field":"v","type":"quantitative","scale":{"domain":[-0.0359,0.1511],"nice":false,"zero":false},
     "axis":{"orient":"left","values":[0,0.05,0.1],"format":".2f","tickSize":-15,"labelPadding":27,"title":"ridge","titleAngle":0,"titleX":-140,"titleY":165,"titleAlign":"center","titleBaseline":"alphabetic","titleFontSize":37}},
    "detail":{"field":"s","type":"nominal"}}},
  {"data":{"values":[{"t":1.75e-3,"v":0.1095,"lab":"c"}]},"mark":{"type":"text","fontSize":36,"font":"Liberation Sans","align":"center","baseline":"alphabetic","color":"black"},
   "encoding":{"x":{"field":"t","type":"quantitative","scale":{"type":"log","domain":[1e-8,1e-2],"nice":false},
     "axis":{"orient":"top","values":[1e-8,2e-8,3e-8,4e-8,5e-8,6e-8,7e-8,8e-8,9e-8,1e-7,2e-7,3e-7,4e-7,5e-7,6e-7,7e-7,8e-7,9e-7,1e-6,2e-6,3e-6,4e-6,5e-6,6e-6,7e-6,8e-6,9e-6,1e-5,2e-5,3e-5,4e-5,5e-5,6e-5,7e-5,8e-5,9e-5,1e-4,2e-4,3e-4,4e-4,5e-4,6e-4,7e-4,8e-4,9e-4,1e-3,2e-3,3e-3,4e-3,5e-3,6e-3,7e-3,8e-3,9e-3,1e-2],
      "tickSize":{"condition":{"test":"abs(log(datum.value)/LN10-round(log(datum.value)/LN10))<0.01","value":-13},"value":-6},"labels":false,"title":null}},
    "y":{"field":"v","type":"quantitative","scale":{"domain":[-0.0359,0.1511],"nice":false,"zero":false},
     "axis":{"orient":"right","values":[0,0.05,0.1],"tickSize":-15,"labels":false,"title":null}},
    "text":{"field":"lab"}}}
 ],
 "resolve":{"axis":{"x":"independent","y":"independent"}}
},
{
 "width":332,"height":276,
 "layer":[
  {"data":{"name":"dL"},"transform":[{"fold":["d1","d2","d3","d4"],"as":["s","v"]}],"mark":{"type":"line","color":"black","strokeWidth":2.5,"interpolate":"monotone"},
   "encoding":{
    "x":{"field":"t","type":"quantitative","scale":{"type":"log","domain":[1e-8,1e-2],"nice":false},
     "axis":{"orient":"bottom","values":[1e-8,2e-8,3e-8,4e-8,5e-8,6e-8,7e-8,8e-8,9e-8,1e-7,2e-7,3e-7,4e-7,5e-7,6e-7,7e-7,8e-7,9e-7,1e-6,2e-6,3e-6,4e-6,5e-6,6e-6,7e-6,8e-6,9e-6,1e-5,2e-5,3e-5,4e-5,5e-5,6e-5,7e-5,8e-5,9e-5,1e-4,2e-4,3e-4,4e-4,5e-4,6e-4,7e-4,8e-4,9e-4,1e-3,2e-3,3e-3,4e-3,5e-3,6e-3,7e-3,8e-3,9e-3,1e-2],
      "tickSize":{"condition":{"test":"abs(log(datum.value)/LN10-round(log(datum.value)/LN10))<0.01","value":-13},"value":-6},"labels":false,"title":null}},
    "y":{"field":"v","type":"quantitative","scale":{"domain":[-0.0359,0.1511],"nice":false,"zero":false},
     "axis":{"orient":"left","values":[0,0.05,0.1],"format":".2f","tickSize":-15,"labelPadding":25,"title":null}},
    "detail":{"field":"s","type":"nominal"}}},
  {"data":{"values":[{"t":6.8e-7,"y":0.0768,"y2":0.034}]},"mark":{"type":"rule","color":"black","strokeWidth":5},
   "encoding":{"x":{"field":"t","type":"quantitative","scale":{"type":"log","domain":[1e-8,1e-2],"nice":false},"axis":null},
    "y":{"field":"y","type":"quantitative","scale":{"domain":[-0.0359,0.1511],"nice":false,"zero":false},"axis":null},
    "y2":{"field":"y2"}}},
  {"data":{"values":[{"t":6.8e-7,"y":0.0299}]},"mark":{"type":"point","shape":"M-0.75,-1L0.75,-1L0,1Z","size":784,"filled":true,"color":"black","opacity":1,"strokeWidth":0},
   "encoding":{"x":{"field":"t","type":"quantitative","scale":{"type":"log","domain":[1e-8,1e-2],"nice":false},"axis":null},
    "y":{"field":"y","type":"quantitative","scale":{"domain":[-0.0359,0.1511],"nice":false,"zero":false},"axis":null}}},
  {"data":{"values":[{"t":1.68e-3,"v":0.1095,"lab":"d"}]},"mark":{"type":"text","fontSize":36,"font":"Liberation Sans","align":"center","baseline":"alphabetic","color":"black"},
   "encoding":{"x":{"field":"t","type":"quantitative","scale":{"type":"log","domain":[1e-8,1e-2],"nice":false},
     "axis":{"orient":"top","values":[1e-8,2e-8,3e-8,4e-8,5e-8,6e-8,7e-8,8e-8,9e-8,1e-7,2e-7,3e-7,4e-7,5e-7,6e-7,7e-7,8e-7,9e-7,1e-6,2e-6,3e-6,4e-6,5e-6,6e-6,7e-6,8e-6,9e-6,1e-5,2e-5,3e-5,4e-5,5e-5,6e-5,7e-5,8e-5,9e-5,1e-4,2e-4,3e-4,4e-4,5e-4,6e-4,7e-4,8e-4,9e-4,1e-3,2e-3,3e-3,4e-3,5e-3,6e-3,7e-3,8e-3,9e-3,1e-2],
      "tickSize":{"condition":{"test":"abs(log(datum.value)/LN10-round(log(datum.value)/LN10))<0.01","value":-13},"value":-6},"labels":false,"title":null}},
    "y":{"field":"v","type":"quantitative","scale":{"domain":[-0.0359,0.1511],"nice":false,"zero":false},
     "axis":{"orient":"right","values":[0,0.05,0.1],"tickSize":-15,"labels":false,"title":null}},
    "text":{"field":"lab"}}}
 ],
 "resolve":{"axis":{"x":"independent","y":"independent"}}
},
{
 "width":332,"height":204,
 "layer":[
  {"data":{"name":"eL"},"transform":[{"fold":["e1","e2","e3","e4"],"as":["s","v"]}],"mark":{"type":"line","color":"black","strokeWidth":2.8,"strokeJoin":"round"},
   "encoding":{
    "x":{"field":"t","type":"quantitative","scale":{"type":"log","domain":[1e-8,1e-2],"nice":false},
     "axis":{"orient":"bottom","values":[1e-8,2e-8,3e-8,4e-8,5e-8,6e-8,7e-8,8e-8,9e-8,1e-7,2e-7,3e-7,4e-7,5e-7,6e-7,7e-7,8e-7,9e-7,1e-6,2e-6,3e-6,4e-6,5e-6,6e-6,7e-6,8e-6,9e-6,1e-5,2e-5,3e-5,4e-5,5e-5,6e-5,7e-5,8e-5,9e-5,1e-4,2e-4,3e-4,4e-4,5e-4,6e-4,7e-4,8e-4,9e-4,1e-3,2e-3,3e-3,4e-3,5e-3,6e-3,7e-3,8e-3,9e-3,1e-2],
      "tickSize":{"condition":{"test":"abs(log(datum.value)/LN10-round(log(datum.value)/LN10))<0.01","value":-13},"value":-6},"labels":false,"title":null}},
    "y":{"field":"v","type":"quantitative","scale":{"domain":[-0.1966,1.2007],"nice":false,"zero":false},
     "axis":{"orient":"left","values":[0,0.25,0.5,0.75,1],"format":".2f","tickSize":-15,"labelPadding":27,"title":"lasso","titleAngle":0,"titleX":-139,"titleY":117,"titleAlign":"center","titleBaseline":"alphabetic","titleFontSize":37}},
    "detail":{"field":"s","type":"nominal"}}},
  {"data":{"values":[{"t":1.58e-3,"v":0.776,"lab":"e"}]},"mark":{"type":"text","fontSize":36,"font":"Liberation Sans","align":"center","baseline":"alphabetic","color":"black"},
   "encoding":{"x":{"field":"t","type":"quantitative","scale":{"type":"log","domain":[1e-8,1e-2],"nice":false},
     "axis":{"orient":"top","values":[1e-8,2e-8,3e-8,4e-8,5e-8,6e-8,7e-8,8e-8,9e-8,1e-7,2e-7,3e-7,4e-7,5e-7,6e-7,7e-7,8e-7,9e-7,1e-6,2e-6,3e-6,4e-6,5e-6,6e-6,7e-6,8e-6,9e-6,1e-5,2e-5,3e-5,4e-5,5e-5,6e-5,7e-5,8e-5,9e-5,1e-4,2e-4,3e-4,4e-4,5e-4,6e-4,7e-4,8e-4,9e-4,1e-3,2e-3,3e-3,4e-3,5e-3,6e-3,7e-3,8e-3,9e-3,1e-2],
      "tickSize":{"condition":{"test":"abs(log(datum.value)/LN10-round(log(datum.value)/LN10))<0.01","value":-13},"value":-6},"labels":false,"title":null}},
    "y":{"field":"v","type":"quantitative","scale":{"domain":[-0.1966,1.2007],"nice":false,"zero":false},
     "axis":{"orient":"right","values":[0,0.25,0.5,0.75,1],"tickSize":-15,"labels":false,"title":null}},
    "text":{"field":"lab"}}}
 ],
 "resolve":{"axis":{"x":"independent","y":"independent"}}
},
{
 "width":332,"height":204,
 "layer":[
  {"data":{"name":"fL"},"transform":[{"fold":["f1","f2","f3"],"as":["s","v"]}],"mark":{"type":"line","color":"black","strokeWidth":2.8,"strokeJoin":"round"},
   "encoding":{
    "x":{"field":"t","type":"quantitative","scale":{"type":"log","domain":[1e-8,1e-2],"nice":false},
     "axis":{"orient":"bottom","values":[1e-8,2e-8,3e-8,4e-8,5e-8,6e-8,7e-8,8e-8,9e-8,1e-7,2e-7,3e-7,4e-7,5e-7,6e-7,7e-7,8e-7,9e-7,1e-6,2e-6,3e-6,4e-6,5e-6,6e-6,7e-6,8e-6,9e-6,1e-5,2e-5,3e-5,4e-5,5e-5,6e-5,7e-5,8e-5,9e-5,1e-4,2e-4,3e-4,4e-4,5e-4,6e-4,7e-4,8e-4,9e-4,1e-3,2e-3,3e-3,4e-3,5e-3,6e-3,7e-3,8e-3,9e-3,1e-2],
      "tickSize":{"condition":{"test":"abs(log(datum.value)/LN10-round(log(datum.value)/LN10))<0.01","value":-13},"value":-6},"labels":false,"title":null}},
    "y":{"field":"v","type":"quantitative","scale":{"domain":[-0.1966,1.2007],"nice":false,"zero":false},
     "axis":{"orient":"left","values":[0,0.25,0.5,0.75,1],"format":".2f","tickSize":-15,"labelPadding":25,"title":null}},
    "detail":{"field":"s","type":"nominal"}}},
  {"data":{"values":[{"t":1.83e-3,"v":0.776,"lab":"f"}]},"mark":{"type":"text","fontSize":36,"font":"Liberation Sans","align":"center","baseline":"alphabetic","color":"black"},
   "encoding":{"x":{"field":"t","type":"quantitative","scale":{"type":"log","domain":[1e-8,1e-2],"nice":false},
     "axis":{"orient":"top","values":[1e-8,2e-8,3e-8,4e-8,5e-8,6e-8,7e-8,8e-8,9e-8,1e-7,2e-7,3e-7,4e-7,5e-7,6e-7,7e-7,8e-7,9e-7,1e-6,2e-6,3e-6,4e-6,5e-6,6e-6,7e-6,8e-6,9e-6,1e-5,2e-5,3e-5,4e-5,5e-5,6e-5,7e-5,8e-5,9e-5,1e-4,2e-4,3e-4,4e-4,5e-4,6e-4,7e-4,8e-4,9e-4,1e-3,2e-3,3e-3,4e-3,5e-3,6e-3,7e-3,8e-3,9e-3,1e-2],
      "tickSize":{"condition":{"test":"abs(log(datum.value)/LN10-round(log(datum.value)/LN10))<0.01","value":-13},"value":-6},"labels":false,"title":null}},
    "y":{"field":"v","type":"quantitative","scale":{"domain":[-0.1966,1.2007],"nice":false,"zero":false},
     "axis":{"orient":"right","values":[0,0.25,0.5,0.75,1],"tickSize":-15,"labels":false,"title":null}},
    "text":{"field":"lab"}}}
 ],
 "resolve":{"axis":{"x":"independent","y":"independent"}}
},
{
 "width":332,"height":232,
 "layer":[
  {"data":{"name":"gL"},"transform":[{"fold":["g1","g2","g3"],"as":["s","v"]}],"mark":{"type":"line","color":"black","strokeWidth":2.2,"interpolate":"monotone"},
   "encoding":{
    "x":{"field":"t","type":"quantitative","scale":{"type":"log","domain":[1e-8,1e-2],"nice":false},
     "axis":{"orient":"bottom","values":[1e-8,2e-8,3e-8,4e-8,5e-8,6e-8,7e-8,8e-8,9e-8,1e-7,2e-7,3e-7,4e-7,5e-7,6e-7,7e-7,8e-7,9e-7,1e-6,2e-6,3e-6,4e-6,5e-6,6e-6,7e-6,8e-6,9e-6,1e-5,2e-5,3e-5,4e-5,5e-5,6e-5,7e-5,8e-5,9e-5,1e-4,2e-4,3e-4,4e-4,5e-4,6e-4,7e-4,8e-4,9e-4,1e-3,2e-3,3e-3,4e-3,5e-3,6e-3,7e-3,8e-3,9e-3,1e-2],
      "tickSize":{"condition":{"test":"abs(log(datum.value)/LN10-round(log(datum.value)/LN10))<0.01","value":-13},"value":-6},
      "labelExpr":"abs(log(datum.value)/LN10-round(log(datum.value)/LN10))<0.01 && datum.value>5e-8 && datum.value<5e-3 ? '10' : ''",
      "labelAlign":"right","labelOffset":8,"labelBaseline":"alphabetic","labelPadding":57,
      "title":"timescale (s)","titleX":166,"titleY":90,"titleAlign":"center","titleBaseline":"alphabetic"}},
    "y":{"field":"v","type":"quantitative","scale":{"domain":[-0.01825,0.1511],"nice":false,"zero":false},
     "axis":{"orient":"left","values":[0,0.04,0.08,0.12],"format":".2f","tickSize":-15,"labelPadding":27,"title":["elastic","net"],"titleAngle":0,"titleX":-139,"titleY":101,"titleAlign":"center","titleBaseline":"alphabetic","titleFontSize":37,"titleLineHeight":47}},
    "detail":{"field":"s","type":"nominal"}}},
  {"data":{"name":"gL"},"mark":{"type":"line","color":"black","strokeWidth":2},
   "encoding":{
    "x":{"field":"t","type":"quantitative","scale":{"type":"log","domain":[1e-8,1e-2],"nice":false},
     "axis":{"orient":"bottom","values":[1e-7,1e-6,1e-5,1e-4,1e-3],"ticks":false,"tickSize":0,"labelExpr":"'-' + (-round(log(datum.value)/LN10))","labelFontSize":17,"labelAlign":"left","labelOffset":10,"labelBaseline":"alphabetic","labelPadding":33,"title":null}},
    "y":{"field":"g4","type":"quantitative","scale":{"domain":[-0.01825,0.1511],"nice":false,"zero":false},"axis":null}}},
  {"data":{"values":[{"t":1.2e-3,"v":0.1012,"lab":"g"}]},"mark":{"type":"text","fontSize":36,"font":"Liberation Sans","align":"center","baseline":"alphabetic","color":"black"},
   "encoding":{"x":{"field":"t","type":"quantitative","scale":{"type":"log","domain":[1e-8,1e-2],"nice":false},
     "axis":{"orient":"top","values":[1e-8,2e-8,3e-8,4e-8,5e-8,6e-8,7e-8,8e-8,9e-8,1e-7,2e-7,3e-7,4e-7,5e-7,6e-7,7e-7,8e-7,9e-7,1e-6,2e-6,3e-6,4e-6,5e-6,6e-6,7e-6,8e-6,9e-6,1e-5,2e-5,3e-5,4e-5,5e-5,6e-5,7e-5,8e-5,9e-5,1e-4,2e-4,3e-4,4e-4,5e-4,6e-4,7e-4,8e-4,9e-4,1e-3,2e-3,3e-3,4e-3,5e-3,6e-3,7e-3,8e-3,9e-3,1e-2],
      "tickSize":{"condition":{"test":"abs(log(datum.value)/LN10-round(log(datum.value)/LN10))<0.01","value":-13},"value":-6},"labels":false,"title":null}},
    "y":{"field":"v","type":"quantitative","scale":{"domain":[-0.01825,0.1511],"nice":false,"zero":false},
     "axis":{"orient":"right","values":[0,0.04,0.08,0.12],"tickSize":-15,"labels":false,"title":null}},
    "text":{"field":"lab"}}}
 ],
 "resolve":{"axis":{"x":"independent","y":"independent"}}
},
{
 "width":332,"height":232,
 "layer":[
  {"data":{"name":"hL"},"transform":[{"fold":["h1","h2","h3"],"as":["s","v"]}],"mark":{"type":"line","color":"black","strokeWidth":2.2,"interpolate":"monotone"},
   "encoding":{
    "x":{"field":"t","type":"quantitative","scale":{"type":"log","domain":[1e-8,1e-2],"nice":false},
     "axis":{"orient":"bottom","values":[1e-8,2e-8,3e-8,4e-8,5e-8,6e-8,7e-8,8e-8,9e-8,1e-7,2e-7,3e-7,4e-7,5e-7,6e-7,7e-7,8e-7,9e-7,1e-6,2e-6,3e-6,4e-6,5e-6,6e-6,7e-6,8e-6,9e-6,1e-5,2e-5,3e-5,4e-5,5e-5,6e-5,7e-5,8e-5,9e-5,1e-4,2e-4,3e-4,4e-4,5e-4,6e-4,7e-4,8e-4,9e-4,1e-3,2e-3,3e-3,4e-3,5e-3,6e-3,7e-3,8e-3,9e-3,1e-2],
      "tickSize":{"condition":{"test":"abs(log(datum.value)/LN10-round(log(datum.value)/LN10))<0.01","value":-13},"value":-6},
      "labelExpr":"abs(log(datum.value)/LN10-round(log(datum.value)/LN10))<0.01 && datum.value>5e-8 && datum.value<5e-3 ? '10' : ''",
      "labelAlign":"right","labelOffset":8,"labelBaseline":"alphabetic","labelPadding":57,
      "title":"timescale (s)","titleX":166,"titleY":90,"titleAlign":"center","titleBaseline":"alphabetic"}},
    "y":{"field":"v","type":"quantitative","scale":{"domain":[-0.01825,0.1511],"nice":false,"zero":false},
     "axis":{"orient":"left","values":[0,0.04,0.08,0.12],"format":".2f","tickSize":-15,"labelPadding":25,"title":null}},
    "detail":{"field":"s","type":"nominal"}}},
  {"data":{"name":"hL"},"mark":{"type":"line","color":"black","strokeWidth":2},
   "encoding":{
    "x":{"field":"t","type":"quantitative","scale":{"type":"log","domain":[1e-8,1e-2],"nice":false},
     "axis":{"orient":"bottom","values":[1e-7,1e-6,1e-5,1e-4,1e-3],"ticks":false,"tickSize":0,"labelExpr":"'-' + (-round(log(datum.value)/LN10))","labelFontSize":17,"labelAlign":"left","labelOffset":10,"labelBaseline":"alphabetic","labelPadding":33,"title":null}},
    "y":{"field":"h4","type":"quantitative","scale":{"domain":[-0.01825,0.1511],"nice":false,"zero":false},"axis":null}}},
  {"data":{"values":[{"t":1.46e-3,"v":0.1061,"lab":"h"}]},"mark":{"type":"text","fontSize":36,"font":"Liberation Sans","align":"center","baseline":"alphabetic","color":"black"},
   "encoding":{"x":{"field":"t","type":"quantitative","scale":{"type":"log","domain":[1e-8,1e-2],"nice":false},
     "axis":{"orient":"top","values":[1e-8,2e-8,3e-8,4e-8,5e-8,6e-8,7e-8,8e-8,9e-8,1e-7,2e-7,3e-7,4e-7,5e-7,6e-7,7e-7,8e-7,9e-7,1e-6,2e-6,3e-6,4e-6,5e-6,6e-6,7e-6,8e-6,9e-6,1e-5,2e-5,3e-5,4e-5,5e-5,6e-5,7e-5,8e-5,9e-5,1e-4,2e-4,3e-4,4e-4,5e-4,6e-4,7e-4,8e-4,9e-4,1e-3,2e-3,3e-3,4e-3,5e-3,6e-3,7e-3,8e-3,9e-3,1e-2],
      "tickSize":{"condition":{"test":"abs(log(datum.value)/LN10-round(log(datum.value)/LN10))<0.01","value":-13},"value":-6},"labels":false,"title":null}},
    "y":{"field":"v","type":"quantitative","scale":{"domain":[-0.01825,0.1511],"nice":false,"zero":false},
     "axis":{"orient":"right","values":[0,0.04,0.08,0.12],"tickSize":-15,"labels":false,"title":null}},
    "text":{"field":"lab"}}}
 ],
 "resolve":{"axis":{"x":"independent","y":"independent"}}
}
]
}
